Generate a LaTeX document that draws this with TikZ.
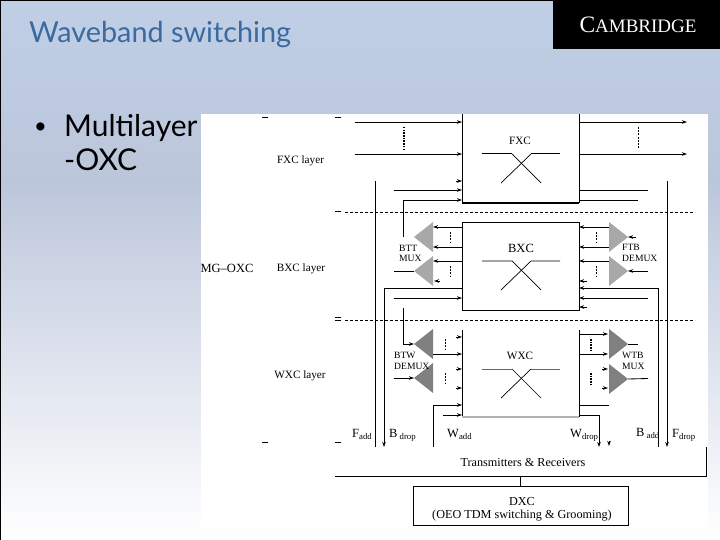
\documentclass[tikz,border=0pt]{standalone}
\usepackage{fontspec}
\setmainfont{Liberation Serif}
\newfontfamily\slidefont{Lato}
\usetikzlibrary{arrows.meta,shapes.geometric}
\definecolor{titleblue}{HTML}{3A6A9F}
\definecolor{bgtop}{HTML}{BFCFE5}
\definecolor{bgmid}{HTML}{BCC6DB}
\definecolor{bglow}{HTML}{E8EBF1}
\definecolor{triA}{HTML}{A8A8A8}
\definecolor{triB}{HTML}{808080}
\tikzset{
  x=1pt,y=-1pt,
  wire/.style={line width=0.85pt,black},
  arr/.style={wire,-{Stealth[length=5pt,width=3.5pt]}},
  dashv/.style={line width=0.8pt,black,dash pattern=on 2pt off 1.2pt},
  dotv/.style={line width=1.6pt,black,dash pattern=on 1.5pt off 1.2pt},
  layer/.style={line width=0.7pt,black,dash pattern=on 3pt off 2pt},
  xbox/.style={minimum width=117pt,inner sep=0pt,outer sep=0pt,anchor=north west},
  tri/.style={isosceles triangle,isosceles triangle stretches,shape border rotate=#1,
     minimum height=19pt,minimum width=30pt,inner sep=0pt,outer sep=0pt,anchor=apex,draw=none},
  lab/.style={font=\fontsize{11.2}{11.2}\selectfont,inner sep=0pt},
  addl/.style={font=\fontsize{12.5}{12.5}\selectfont,inner sep=0pt,anchor=west},
  small/.style={font=\fontsize{9.6}{10.5}\selectfont,inner sep=0pt,align=left,anchor=west},
  tick/.style={line width=0.7pt,black},
  xline/.style={line width=0.7pt,black},
}
\begin{document}
\begin{tikzpicture}
\useasboundingbox (0,0) rectangle (720,540);
\shade[top color=bgtop,bottom color=bgmid] (0,0) rectangle (720,180.5);
\shade[top color=bgmid,middle color=bglow,bottom color=white] (0,180) rectangle (720,540);
\fill[white] (201,114) rectangle (708,527);
\draw[line width=1.4pt,black] (0,540) -- (0,0) -- (553,0);
\fill[black] (553,0) rectangle (720,49);
\node[text=white,inner sep=0pt] (logo) at (638,25) {\fontsize{23.5}{23.5}\selectfont C\fontsize{19}{19}\selectfont AMBRIDGE};
\node[text=titleblue,anchor=west,inner sep=0pt] (title) at (29,35) {\slidefont\fontsize{28.8}{29}\selectfont Waveband switching};
\node[anchor=west,inner sep=0pt] (bul) at (34,128) {\slidefont\fontsize{22}{22}\selectfont •};
\node[anchor=west,inner sep=0pt] (ml) at (64,128) {\slidefont\fontsize{30}{30}\selectfont Multilayer};
\node[anchor=west,inner sep=0pt] (ox) at (64,160) {\slidefont\fontsize{30}{30}\selectfont -OXC};

% boxes
\node[xbox,minimum height=89pt] (fxc) at (462,114) {};
\node[xbox,minimum height=88pt,draw,line width=0.7pt] (bxc) at (462,222) {};
\node[xbox,minimum height=87pt] (wxc) at (462,330) {};
\draw[wire] (fxc.north west) -- (fxc.south west);
\draw[wire] (fxc.north east) -- (fxc.south east);
\draw[line width=1.3pt] (fxc.south west) -- (fxc.south east);
\draw[wire] (wxc.north west) -- (wxc.south west);
\draw[wire] (wxc.north east) -- (wxc.south east);
\draw[line width=1.3pt,black!30] (wxc.south west) -- (wxc.south east);
\node[lab] (fxcl) at (520,141) {FXC};
\node[lab,font=\fontsize{12.5}{12.5}\selectfont] (bxcl) at (521,248) {BXC};
\node[lab] (wxcl) at (520,356) {WXC};

% crossings
\coordinate (fa) at (482,154); \coordinate (fb) at (512,154); \coordinate (fc) at (541,183);
\coordinate (fd) at (560,154); \coordinate (fe) at (531,154); \coordinate (ff) at (501,183);
\draw[line width=1pt] (fa) -- (fb); \draw[line width=1pt] (fd) -- (fe);
\draw[xline] (fb) -- (fc); \draw[xline] (fe) -- (ff);
\coordinate (ba) at (482,261); \coordinate (bb) at (512,261); \coordinate (bc) at (541,290);
\coordinate (bd) at (560,261); \coordinate (be) at (531,261); \coordinate (bf) at (501,290);
\draw[xline] (ba) -- (bb) -- (bc); \draw[xline] (bd) -- (be) -- (bf);
\coordinate (wa) at (482,369); \coordinate (wb) at (512,369); \coordinate (wc) at (541,398);
\coordinate (wd) at (560,369); \coordinate (we) at (531,369); \coordinate (wf) at (501,398);
\draw[line width=0.6pt,black!60] (wa) -- (wb); \draw[line width=0.6pt,black!60] (wd) -- (we);
\draw[xline] (wb) -- (wc); \draw[xline] (we) -- (wf);

% triangles
\node[tri=180,fill=triA] (tl1) at (414,237) {};
\node[tri=180,fill=triA] (tl2) at (414,271) {};
\node[tri=0,fill=triA] (tr1) at (628,237) {};
\node[tri=0,fill=triA] (tr2) at (628,271) {};
\node[tri=180,fill=triB] (wl1) at (414,344) {};
\node[tri=180,fill=triB] (wl2) at (414,378) {};
\node[tri=0,fill=triB] (wr1) at (628,344) {};
\node[tri=0,fill=triB] (wr2) at (628,379) {};

% layer dashed lines and ticks
\coordinate (d1a) at (345,212); \coordinate (d1b) at (695,212);
\coordinate (d2a) at (345,320); \coordinate (d2b) at (695,320);
\draw[layer] (d1a) -- (d1b);
\draw[layer] (d2a) -- (d2b);
\foreach \n/\x/\y in {t1/262/117,t2/335/117,t3/335/211,t4/335/317.5,t5/335/320,t6/262/442,t7/335/442}{
  \coordinate (\n) at (\x,\y);
  \draw[tick] (\n) -- ++(6,0);
}

% FXC inputs / outputs
\coordinate (i1) at (355,122); \coordinate (i2) at (355,154);
\draw[arr] (i1) -- (i1 -| fxc.west);
\draw[arr] (i2) -- (i2 -| fxc.west);
\coordinate (o1) at (687,122); \coordinate (o2) at (687,154);
\draw[arr] (o1 -| fxc.east) -- (o1);
\draw[arr] (o2 -| fxc.east) -- (o2);
\coordinate (d1) at (404,127); \coordinate (d2) at (404,149);
\draw[dotv] (d1) -- (d2);
\coordinate (d3) at (638,127); \coordinate (d4) at (638,148);
\draw[dashv] (d3) -- (d4);
\coordinate (h1) at (456,181); \draw[arr] (h1) -- (h1 -| fxc.west);
\coordinate (i3) at (394,190); \draw[arr] (i3) -- (i3 -| fxc.west);
\coordinate (i4) at (403,200);
\draw[arr] (tl1.apex -| i4) -- (i4) -- (i4 -| fxc.west);
\coordinate (o3) at (648,190); \draw[wire] (o3 -| fxc.east) -- (o3);
\coordinate (o4) at (638,200); \draw[wire] (o4 -| fxc.east) -- (o4);

% long verticals
\coordinate (fadd1) at (375,181); \coordinate (fadd2) at (375,447);
\draw[wire] (fadd1) -- (fadd2);
\coordinate (fdrop1) at (667,181); \coordinate (fdrop2) at (667,447);
\draw[arr] (fdrop1) -- (fdrop2);
\coordinate (bdrop1) at (384,288); \coordinate (bdrop2) at (384,447);
\draw[arr] (bdrop1 -| bxc.west) -- (bdrop1) -- (bdrop2);
\coordinate (bad1) at (658,288); \coordinate (bad2) at (658,447);
\draw[arr] (bad2) -- (bad1) -- (bad1 -| bxc.east);

% BXC left
\foreach \n/\y in {a/227,b/247,c/261}{
  \coordinate (bl\n) at (433,\y);
  \draw[arr] (bl\n -| bxc.west) -- (bl\n);
}
\coordinate (h2) at (440,281); \draw[arr] (h2) -- ++(-6,0);
\coordinate (dl1) at (450,232); \coordinate (dl2) at (450,243); \draw[dashv] (dl1) -- (dl2);
\coordinate (dl3) at (450,266); \coordinate (dl4) at (450,277); \draw[dashv] (dl3) -- (dl4);
\coordinate (l1) at (394,271); \draw[wire] (l1) -- (tl2.apex);
\coordinate (i5) at (394,298); \draw[arr] (i5) -- (i5 -| bxc.west);
\coordinate (i6) at (403,308);
\draw[arr] (i6) -- (wl1.apex -| i6) -- (wl1.apex);
\node[small] (btt) at (399,253.5) {BTT\\MUX};

% BXC right
\foreach \n/\y in {a/227,b/247,c/261}{
  \coordinate (br\n) at (609,\y);
  \draw[arr] (br\n) -- (br\n -| bxc.east);
}
\coordinate (h3) at (587,281); \draw[arr] (h3) -- (h3 -| bxc.east);
\coordinate (h4) at (587,307); \draw[arr] (h4) -- (h4 -| bxc.east);
\coordinate (i7) at (648,298); \draw[arr] (i7) -- (i7 -| bxc.east);
\coordinate (dr1) at (596,232); \coordinate (dr2) at (596,243); \draw[dashv] (dr1) -- (dr2);
\coordinate (dr3) at (596,266); \coordinate (dr4) at (596,277); \draw[dashv] (dr3) -- (dr4);
\coordinate (h5) at (636,237); \draw[arr] (h5) -- (tr1.apex);
\coordinate (l2) at (648,271); \draw[arr] (l2) -- (tr2.apex);
\node[small] (ftd) at (622,253) {FTB\\DEMUX};

% WXC left
\coordinate (wlb) at (433,354); \draw[arr] (wlb) -- (wlb -| wxc.west);
\foreach \n/\y in {a/337,c/369,d/388}{
  \coordinate (wh\n) at (456,\y);
  \draw[arr] (wh\n) -- (wh\n -| wxc.west);
}
\coordinate (l3) at (394,378); \draw[arr] (l3) -- (wl2.apex);
\coordinate (wadd) at (433,447); \coordinate (waddb) at (433,405);
\draw[arr] (wadd) -- (waddb) -- (waddb -| wxc.west);
\coordinate (i8) at (443,415); \draw[arr] (i8) -- (i8 -| wxc.west);
\coordinate (dw1) at (445,339); \coordinate (dw2) at (445,350); \draw[dashv] (dw1) -- (dw2);
\coordinate (dw3) at (445,373); \coordinate (dw4) at (445,383); \draw[dashv] (dw3) -- (dw4);
\node[small] (btw) at (394,361) {BTW\\DEMUX};

% WXC right
\coordinate (wra) at (608,334); \draw[arr] (wra -| wxc.east) -- (wra);
\coordinate (wrb) at (608,354); \draw[arr] (wrb -| wxc.east) -- (wrb);
\coordinate (wrc) at (602,369); \draw[arr] (wrc) -- ++(6,0);
\coordinate (wrd) at (602,388); \draw[arr] (wrd) -- ++(6,0);
\coordinate (l4) at (638,344); \draw[wire] (wr1.apex) -- (l4);
\coordinate (l5) at (648,378.5); \draw[wire] (wr2.apex) -- (l5);
\coordinate (o5) at (609,405); \draw[wire] (o5 -| wxc.east) -- (o5);
\coordinate (wdr) at (599,415); \coordinate (wdr2) at (599,447);
\draw[arr] (wdr -| wxc.east) -- (wdr) -- (wdr2);
\coordinate (h6) at (609,441); \coordinate (h7) at (609,446); \draw[arr] (h6) -- (h7);
\coordinate (dx1) at (591,339); \coordinate (dx2) at (591,350); \draw[dotv] (dx1) -- (dx2);
\coordinate (dx3) at (591,373); \coordinate (dx4) at (591,384); \draw[dotv] (dx3) -- (dx4);
\node[small] (wtd) at (622,361) {WTB\\MUX};

% left labels
\node[lab] (fl) at (300.5,161) {FXC layer};
\node[lab] (bl) at (301,269) {BXC layer};
\node[lab] (wl) at (300,376) {WXC layer};
\node[lab,font=\fontsize{12.5}{12.5}\selectfont] (mg) at (227,268) {MG–OXC};

% add/drop labels
\node[addl] (lf) at (352,434) {F\textsubscript{add}};
\node[addl] (lb) at (389,435) {B\,\textsubscript{drop}};
\node[addl] (lw) at (447,434) {W\textsubscript{add}};
\node[addl] (lwd) at (570,435) {W\textsubscript{drop}};
\node[addl] (lba) at (636,433) {B\,\textsubscript{add}};
\node[addl] (lfd) at (672,435) {F\textsubscript{drop}};

% bottom
\node[lab,font=\fontsize{12.2}{12.2}\selectfont] (tr) at (523,463) {Transmitters \& Receivers};
\node[draw,line width=0.7pt,minimum width=215pt,minimum height=39pt,inner sep=0pt,outer sep=0pt,anchor=north west] (dxc) at (413,486) {};
\node[lab,align=center,font=\fontsize{12.2}{13}\selectfont] (dxct) at (522,509) {DXC\\(OEO TDM switching \& Grooming)};
\coordinate (b1) at (335,476); \coordinate (b2) at (706,476); \coordinate (b3) at (706,447);
\draw[wire] (b1) -- (b2) -- (b3);
\draw[wire] (b1 -| dxc.north) -- (dxc.north);
\end{tikzpicture}
\end{document}
